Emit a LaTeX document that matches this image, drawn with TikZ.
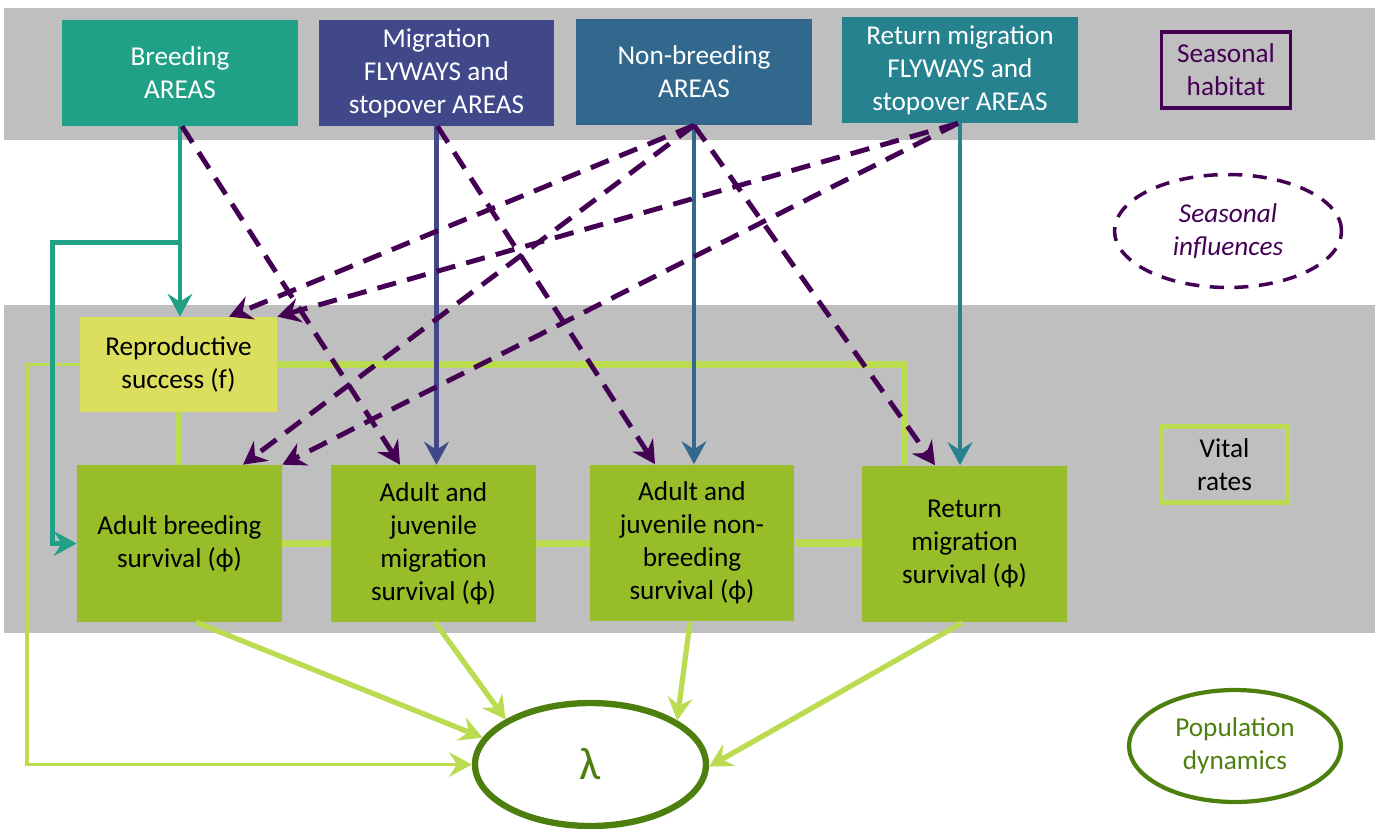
\documentclass[tikz,border=0pt]{standalone}
\usepackage{fontspec}
\setmainfont{Carlito}
\usetikzlibrary{arrows.meta,shapes.geometric,calc}
\definecolor{breedc}{RGB}{32,160,135}
\definecolor{migc}{RGB}{64,72,138}
\definecolor{nbc}{RGB}{50,104,141}
\definecolor{retc}{RGB}{38,130,142}
\definecolor{purp}{RGB}{68,1,84}
\definecolor{repc}{RGB}{220,222,94}
\definecolor{vgreen}{RGB}{151,189,41}
\definecolor{limec}{RGB}{187,219,80}
\definecolor{dgreen}{RGB}{77,127,14}
\definecolor{gband}{RGB}{191,191,191}
\newcommand\boxfont{\fontsize{15.5}{18.7}\selectfont}
\begin{document}
\begin{tikzpicture}[x=0.02cm,y=-0.02cm,
  area/.style={text=white,minimum width=4.72cm,minimum height=2.12cm,inner sep=0pt,align=center,font=\boxfont},
  vital/.style={fill=vgreen,text=black,minimum width=4.1cm,minimum height=3.14cm,inner sep=0pt,align=center,font=\boxfont},
  tip/.style={-{Stealth[length=13pt,width=14pt,inset=4.5pt]}},
  dasharr/.style={tip,draw=purp,line width=2.8pt,dash pattern=on 11pt off 6.5pt},
  solidarr/.style={tip,line width=2.6pt},
  limethick/.style={draw=limec,line width=4pt},
  limethin/.style={draw=limec,line width=2pt},
  lamarr/.style={tip,draw=limec,line width=3pt},
]
\useasboundingbox (0,0) rectangle (1375,828);
\fill[gband] (4,8) rectangle (1375,140);
\fill[gband] (4,305) rectangle (1375,633);

% top habitat boxes
\node[area,fill=breedc] (breed) at (180,73) {Breeding\\AREAS};
\node[area,fill=migc] (mig) at (436.5,73) {Migration\\FLYWAYS and\\stopover AREAS};
\node[area,fill=nbc] (nbA) at (694,72) {Non-breeding\\AREAS};
\node[area,fill=retc] (retA) at (960,70) {Return migration\\FLYWAYS and\\stopover AREAS};

% vital rates
\node[fill=repc,minimum width=3.94cm,minimum height=1.9cm,inner sep=0pt,align=center,font=\boxfont] (rep) at (178.5,364.5) {Reproductive\\success (f)};
\node[vital] (adb) at (179.5,543.5) {Adult breeding\\survival (ϕ)};
\node[vital] (ajm) at (433.5,543.5) {Adult and\\juvenile\\migration\\survival (ϕ)};
\node[vital] (nb) at (692,543) {Adult and\\juvenile non-\\breeding\\survival (ϕ)};
\node[vital] (ret) at (964.5,544) {Return\\migration\\survival (ϕ)};

% lambda
\node[ellipse,draw=dgreen,line width=3.6pt,fill=white,minimum width=4.62cm,minimum height=2.46cm,inner sep=0pt,text=dgreen,font=\fontsize{26}{30}\selectfont] (lam) at (590.5,764.5) {λ};

% legend
\node[draw=purp,line width=2pt,minimum width=2.58cm,minimum height=1.52cm,inner sep=0pt,align=center,text=purp,font=\boxfont] (lhab) at (1226,70) {Seasonal\\habitat};
\node[ellipse,draw=purp,line width=2pt,dash pattern=on 8pt off 6pt,minimum width=4.54cm,minimum height=2.26cm,inner sep=0pt,align=center,text=purp,font=\boxfont\itshape] (linf) at (1228,231) {Seasonal\\influences};
\node[draw=limec,line width=3.2pt,minimum width=2.52cm,minimum height=1.52cm,inner sep=0pt,align=center,font=\boxfont] (lvit) at (1224.5,464.5) {Vital\\rates};
\node[ellipse,draw=dgreen,line width=2.4pt,minimum width=4.24cm,minimum height=2.24cm,inner sep=0pt,align=center,text=dgreen,font=\boxfont] (lpop) at (1235,746) {Population\\dynamics};

% lime connectors among vital rates
\draw[limethick] (rep.south) -- (rep.south |- adb.north);
\draw[limethick] (rep.east) -| ($(ret.north west)+(43,0)$);
\draw[limethick] (adb.east) -- (ajm.west);
\draw[limethick] (ajm.east) -- (ajm.east -| nb.west);
\draw[limethick] (nb.east) -- (nb.east -| ret.west);
\draw[limethin,tip] (rep.west) -| ($(lam.west)+(-445,0)$) -- (lam.west);

% arrows to lambda
\draw[lamarr] ($(adb.south)+(16.5,0)$) -- (lam.166.8);
\draw[lamarr] ($(ajm.south)+(1.5,0)$) -- (lam.152.5);
\draw[lamarr] ($(nb.south)+(-2,0)$) -- (lam.27.5);
\draw[lamarr] ($(ret.south)+(-2.5,0)$) -- (lam.-1.2);

% solid habitat arrows
\coordinate (tb) at ($(breed.south)+(0,116)$);
\draw[solidarr,draw=breedc] (breed.south) -- (breed.south |- rep.north);
\draw[solidarr,draw=breedc] (tb) -| ($(adb.west)+(-24,0)$) -- (adb.west);
\draw[solidarr,draw=migc] (mig.south) -- (mig.south |- ajm.north);
\draw[solidarr,draw=nbc] (nbA.south) -- (nbA.south |- nb.north);
\draw[solidarr,draw=retc] (retA.south) -- (retA.south |- ret.north);

% dashed seasonal influences
\draw[dasharr] ($(breed.south)+(2,0)$) -- ($(ajm.north)+(-33.5,0)$);
\draw[dasharr] ($(mig.south)+(1,0)$) -- ($(nb.north)+(-37,0)$);
\draw[dasharr] (nbA.south) -- ($(ret.north)+(-29.5,0)$);
\draw[dasharr] (nbA.south) -- ($(rep.north)+(50.5,0)$);
\draw[dasharr] (nbA.south) -- ($(adb.north)+(63.5,0)$);
\draw[dasharr] ($(retA.south)+(-2,0)$) -- (rep.north east);
\draw[dasharr] ($(retA.south)+(-2,0)$) -- (adb.north east);
\end{tikzpicture}
\end{document}
